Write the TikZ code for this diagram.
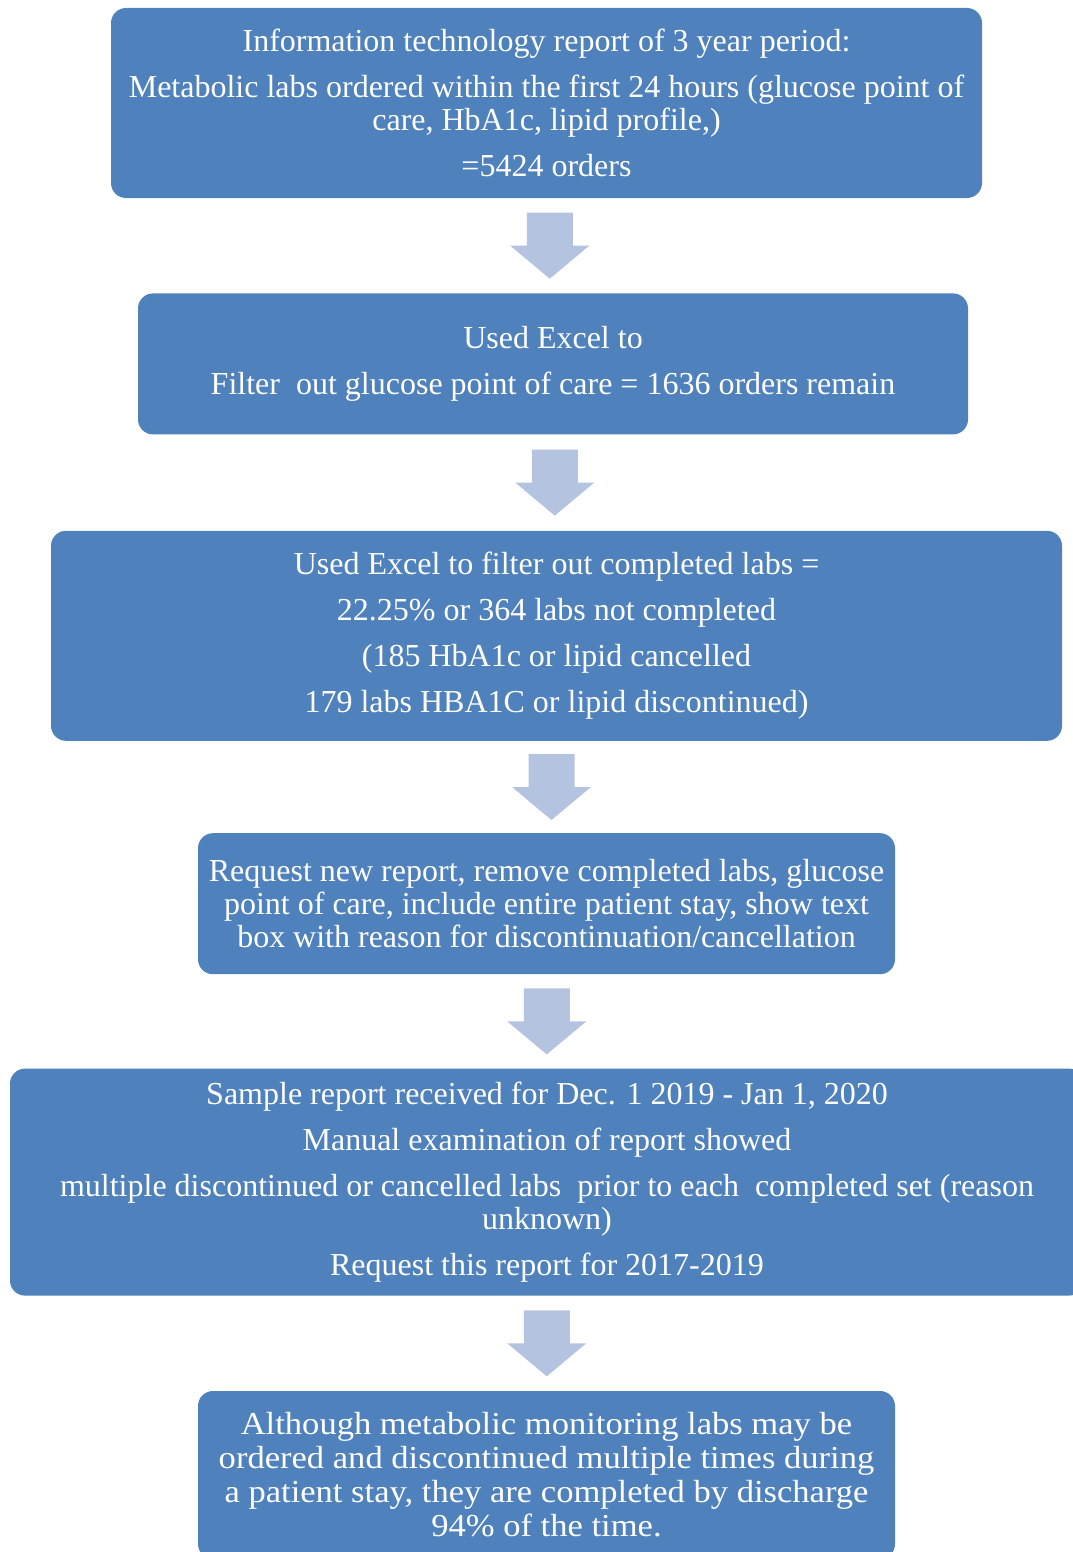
\documentclass[tikz,border=0pt]{standalone}
\usepackage{fontspec}
\setmainfont{Liberation Serif}
\newfontfamily\wideserif[FakeStretch=1.08]{Liberation Serif}
\usetikzlibrary{positioning}
\definecolor{boxblue}{HTML}{4F81BD}
\definecolor{arrowblue}{HTML}{B4C3DF}

\begin{document}
\begin{tikzpicture}[x=1pt,y=1pt]
        \tikzstyle{box}=[fill=boxblue,rounded corners=15pt,text=white,align=center,inner sep=0pt,font=\fontsize{32}{33}\selectfont]
        \tikzstyle{downarrow}=[fill=arrowblue]
        \useasboundingbox (0,0) rectangle (1073,-1552);
        \node[box,minimum width=871pt,minimum height=190pt] (itreport) at (546.5,-103)
            {Information technology report of 3 year period:\\[13pt]
             Metabolic labs ordered within the first 24 hours (glucose point of\\
             care, HbA1c, lipid profile,)\\[13pt]
             =5424 orders};
        \node[box,minimum width=830pt,minimum height=141pt,below=95pt of itreport,xshift=6.5pt] (filterpoc)
            {Used Excel to\\[13pt]
             Filter\ \ out glucose point of care = 1636 orders remain};
        \node[box,minimum width=1011pt,minimum height=210pt,below=96pt of filterpoc,xshift=3.5pt] (notdone)
            {Used Excel to filter out completed labs =\\[13pt]
             22.25\% or 364 labs not completed\\[13pt]
             (185 HbA1c or lipid cancelled\\[13pt]
             179 labs HBA1C or lipid discontinued)};
        \node[box,minimum width=697pt,minimum height=141pt,below=92pt of notdone,xshift=-10pt] (newreport)
            {Request new report, remove completed labs, glucose\\
             point of care, include entire patient stay, show text\\
             box with reason for discontinuation/cancellation};
        \node[box,minimum width=1074pt,minimum height=227pt,below=94pt of newreport,xshift=0.5pt] (sample)
            {Sample report received for Dec. 1 2019 - Jan 1, 2020\\[13pt]
             Manual examination of report showed\\[13pt]
             multiple discontinued or cancelled labs\ \ prior to each\ \ completed set (reason\\
             unknown)\\[13pt]
             Request this report for 2017-2019};
        \node[box,minimum width=697pt,minimum height=168pt,below=95pt of sample,xshift=-0.5pt,font=\wideserif\fontsize{32}{34}\selectfont] (summary)
            {Although metabolic monitoring labs may be\\
             ordered and discontinued multiple times during\\
             a patient stay, they are completed by discharge\\
             94\% of the time.};
        % block arrows between the steps
        \foreach \a/\b in {itreport/filterpoc,filterpoc/notdone,notdone/newreport,newreport/sample,sample/summary}{
            \path (\a.south) -- coordinate[midway] (mid) (\b.north);
            \fill[downarrow] (mid) ++(-23,33) -- ++(46,0) -- ++(0,-33) -- ++(16.5,0)
                -- ++(-39.5,-33) -- ++(-39.5,33) -- ++(16.5,0) -- cycle;
        }
\end{tikzpicture}
\end{document}
